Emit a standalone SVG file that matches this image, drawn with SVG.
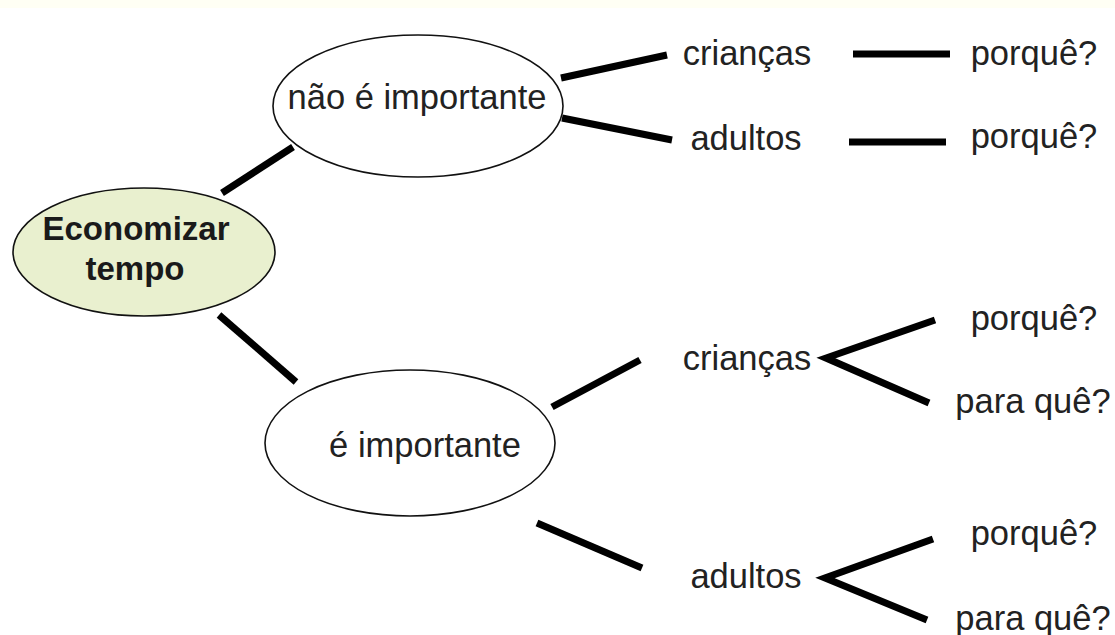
<svg xmlns="http://www.w3.org/2000/svg" width="1115" height="635" viewBox="0 0 1115 635">
<style>
.bg{fill:#ffffff}
.node{stroke:#111;stroke-width:1.6}
.plain{fill:#ffffff}
.root{fill:#e9f0cf}
.t{font-family:"Liberation Sans",Arial,sans-serif;font-size:34.5px;fill:#222}
.tb{font-family:"Liberation Sans",Arial,sans-serif;font-size:33px;font-weight:bold;fill:#1a1a1a}
.c line{stroke:#000;stroke-width:7;stroke-linecap:butt}
</style>
<rect class="bg" x="0" y="0" width="1115" height="635"/>
<rect x="0" y="0" width="1115" height="8" fill="#fffff4"/>
<g class="c" id="connectors">
<line x1="222" y1="193" x2="293" y2="147"/>
<line x1="219" y1="315" x2="296" y2="382"/>
<line x1="561" y1="78" x2="667" y2="55"/>
<line x1="562" y1="118" x2="672" y2="140"/>
<line x1="853" y1="54" x2="950" y2="54"/>
<line x1="849" y1="142" x2="946" y2="142"/>
<line x1="552" y1="407" x2="640" y2="360"/>
<line x1="537" y1="523" x2="642" y2="568"/>
<polyline points="935,320 826,358 929,403" fill="none" stroke="#000" stroke-width="7" stroke-linejoin="miter"/>
<polyline points="933,539 825,578 927,620" fill="none" stroke="#000" stroke-width="7" stroke-linejoin="miter"/>
</g>
<g id="economizar">
<ellipse class="node root" cx="144" cy="252" rx="131" ry="64"/>
<text class="tb" x="136" y="240" text-anchor="middle">Economizar</text>
<text class="tb" x="135" y="280" text-anchor="middle">tempo</text>
</g>
<g id="nao-importante">
<ellipse class="node plain" cx="418" cy="106" rx="145" ry="71"/>
<text class="t" x="417" y="109" text-anchor="middle">não é importante</text>
</g>
<g id="importante">
<ellipse class="node plain" cx="410" cy="443" rx="145" ry="73"/>
<text class="t" x="425" y="457" text-anchor="middle">é importante</text>
</g>
<g id="criancas1"><text class="t" x="747" y="65" text-anchor="middle">crianças</text></g>
<g id="adultos1"><text class="t" x="746" y="150" text-anchor="middle">adultos</text></g>
<g id="porque1"><text class="t" x="1034" y="65" text-anchor="middle">porquê?</text></g>
<g id="porque2"><text class="t" x="1034" y="148" text-anchor="middle">porquê?</text></g>
<g id="criancas2"><text class="t" x="747" y="370" text-anchor="middle">crianças</text></g>
<g id="porque3"><text class="t" x="1034" y="330" text-anchor="middle">porquê?</text></g>
<g id="paraque1"><text class="t" x="1033" y="413" text-anchor="middle">para quê?</text></g>
<g id="adultos2"><text class="t" x="746" y="588" text-anchor="middle">adultos</text></g>
<g id="porque4"><text class="t" x="1034" y="545" text-anchor="middle">porquê?</text></g>
<g id="paraque2"><text class="t" x="1033" y="630" text-anchor="middle">para quê?</text></g>
</svg>
